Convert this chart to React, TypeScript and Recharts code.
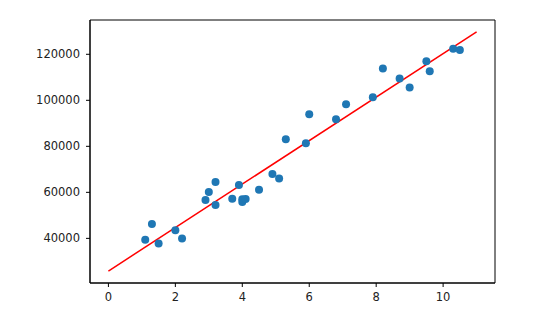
import { ComposedChart, Scatter, Line, XAxis, YAxis, ReferenceArea } from "recharts";

// years of experience vs salary
const years = [1.1, 1.3, 1.5, 2.0, 2.2, 2.9, 3.0, 3.2, 3.2, 3.7, 3.9, 4.0, 4.0, 4.1, 4.5, 4.9, 5.1, 5.3, 5.9, 6.0, 6.8, 7.1, 7.9, 8.2, 8.7, 9.0, 9.5, 9.6, 10.3, 10.5];
const salary = [39343, 46205, 37731, 43525, 39891, 56642, 60150, 54445, 64445, 57189, 63218, 55794, 56957, 57081, 61111, 67938, 66029, 83088, 81363, 93940, 91738, 98273, 101302, 113812, 109431, 105582, 116969, 112635, 122391, 121872];

// fitted line endpoints
const fitX = [0, 11];
const fitY = [25800, 129700];

const xTicks = [0, 2, 4, 6, 8, 10];
const yTicks = [40000, 60000, 80000, 100000, 120000];

const xDomain = [-0.55, 11.55];
const yDomain = [20600, 134900];

const points = years.map((x, i) => ({ x, y: salary[i] }));
const fit = fitX.map((x, i) => ({ x, y: fitY[i] }));

const tickStyle = { fill: "#222", fontSize: 11.5, fontFamily: "DejaVu Sans" };

const Dot = (p: any) => <circle cx={p.cx} cy={p.cy} r={4} fill="#1f77b4" />;

export default function App() {
  return (
    <ComposedChart width={526} height={303} margin={{ top: 12, right: 39, left: 0, bottom: 0 }}>
      <XAxis
        dataKey="x"
        type="number"
        domain={xDomain}
        ticks={xTicks}
        allowDataOverflow
        height={28}
        tickSize={4}
        tickMargin={6}
        stroke="#000"
        tick={tickStyle}
      />
      <YAxis
        dataKey="y"
        type="number"
        domain={yDomain}
        ticks={yTicks}
        allowDataOverflow
        width={82}
        tickSize={4}
        tickMargin={6}
        stroke="#000"
        tick={tickStyle}
      />
      {/* box around the plot */}
      <ReferenceArea x1={xDomain[0]} x2={xDomain[1]} y1={yDomain[0]} y2={yDomain[1]} fill="none" stroke="#000" strokeWidth={1} ifOverflow="visible" />
      <Scatter data={points} dataKey="y" shape={Dot} isAnimationActive={false} />
      <Line data={fit} dataKey="y" stroke="#ff0000" strokeWidth={1.5} dot={false} isAnimationActive={false} />
    </ComposedChart>
  );
}
